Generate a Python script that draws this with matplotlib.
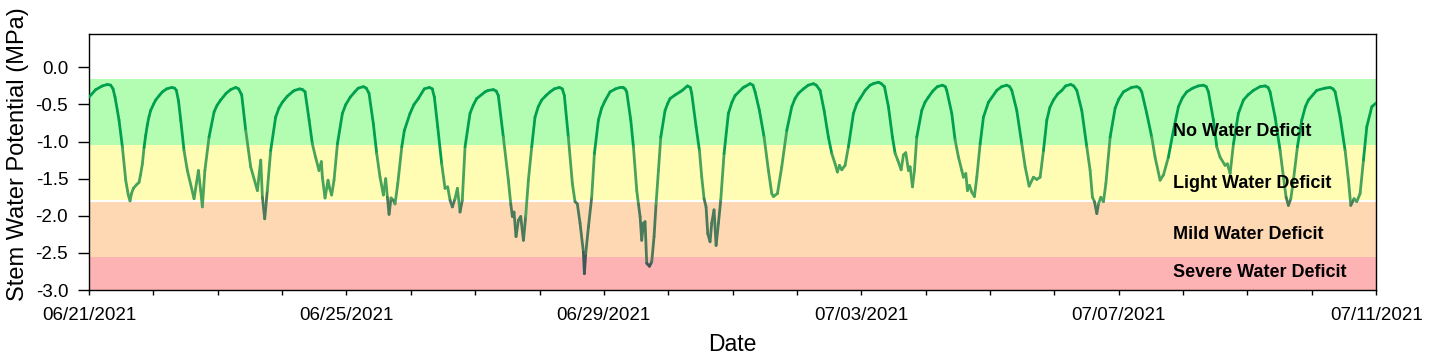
import numpy as np
import pandas as pd
import matplotlib
matplotlib.use("Agg")
import matplotlib.pyplot as plt
import matplotlib.dates as mdates
from matplotlib.collections import LineCollection

plt.rcParams["font.family"] = ["Liberation Sans", "DejaVu Sans"]
plt.rcParams["axes.unicode_minus"] = False

START = pd.Timestamp("2021-06-21")

# time since 06/21/2021 in days
day_offset = [
    0.000, 0.104, 0.207, 0.285, 0.337, 0.373, 0.404, 0.440, 0.466, 0.518, 0.570, 0.610,
    0.637, 0.660, 0.689, 0.740, 0.777, 0.800, 0.829, 0.855, 0.880, 0.907, 0.933, 0.958,
    1.000, 1.036, 1.090, 1.140, 1.205, 1.285, 1.330, 1.357, 1.390, 1.425, 1.476, 1.528,
    1.632, 1.700, 1.735, 1.761, 1.800, 1.865, 1.943, 1.990, 2.046, 2.130, 2.200, 2.280,
    2.325, 2.372, 2.435, 2.512, 2.616, 2.668, 2.694, 2.730, 2.770, 2.823, 2.900, 2.950,
    3.004, 3.080, 3.160, 3.194, 3.274, 3.319, 3.357, 3.420, 3.470, 3.520, 3.574, 3.610,
    3.626, 3.667, 3.714, 3.740, 3.770, 3.807, 3.860, 3.937, 3.990, 4.060,
    4.130, 4.183, 4.263, 4.308, 4.351, 4.418, 4.470, 4.522, 4.574, 4.610, 4.636, 4.662,
    4.693, 4.729, 4.755, 4.797, 4.860, 4.900, 4.988, 5.050, 5.118, 5.209, 5.289, 5.334,
    5.366, 5.418, 5.480, 5.532, 5.573, 5.610, 5.646, 5.687, 5.724, 5.765, 5.800, 5.843,
    5.920, 5.970, 6.024, 6.154, 6.203, 6.283, 6.328, 6.360, 6.438, 6.516, 6.553, 6.579,
    6.604, 6.635, 6.672, 6.708, 6.750, 6.785, 6.827, 6.879, 6.930, 6.980, 7.034, 7.100,
    7.164, 7.229, 7.309, 7.354, 7.386, 7.448, 7.511, 7.552, 7.588, 7.630, 7.682, 7.697,
    7.718, 7.760, 7.811, 7.853, 7.915, 7.965, 8.018,
    8.096, 8.180, 8.252, 8.293, 8.330, 8.355, 8.418, 8.459, 8.511, 8.537, 8.563, 8.588,
    8.614, 8.640, 8.666, 8.708, 8.744, 8.780, 8.811, 8.848, 8.884, 8.951, 8.990, 9.029,
    9.110, 9.184, 9.218, 9.298, 9.343, 9.365, 9.433, 9.485, 9.521, 9.557, 9.588, 9.614,
    9.650, 9.676, 9.712, 9.744, 9.780, 9.816, 9.868, 9.935, 9.990, 10.039, 10.168, 10.192,
    10.272, 10.317, 10.350, 10.417, 10.490, 10.557, 10.609, 10.635, 10.697, 10.764, 10.842,
    10.920, 10.970, 11.023, 11.100, 11.176, 11.256, 11.301, 11.360, 11.422, 11.489, 11.541,
    11.593, 11.629, 11.660, 11.697, 11.748, 11.800, 11.878, 11.930, 11.981, 12.060,
    12.137, 12.187, 12.267, 12.312, 12.360, 12.422, 12.484, 12.526, 12.567, 12.619, 12.655,
    12.691, 12.733, 12.759, 12.795, 12.826, 12.862, 12.940, 12.990, 13.044, 13.110, 13.181,
    13.261, 13.306, 13.328, 13.406, 13.458, 13.510, 13.562, 13.587, 13.624, 13.650, 13.681,
    13.717, 13.758, 13.795, 13.847, 13.898, 13.976, 14.105, 14.181, 14.261, 14.306, 14.339,
    14.416, 14.494, 14.546, 14.608, 14.675, 14.727, 14.779, 14.831, 14.883, 14.930, 14.986,
    15.050, 15.116, 15.175, 15.255, 15.300, 15.349, 15.426, 15.504, 15.556, 15.592, 15.623,
    15.660, 15.686, 15.722, 15.763, 15.800, 15.867, 15.944, 16.000,
    16.073, 16.200, 16.280, 16.325, 16.358, 16.436, 16.513, 16.565, 16.643, 16.695, 16.772,
    16.850, 16.928, 16.990, 17.057, 17.150, 17.236, 17.316, 17.361, 17.394, 17.472, 17.524,
    17.575, 17.653, 17.689, 17.731, 17.783, 17.860, 17.938, 18.010, 18.093, 18.195, 18.275,
    18.320, 18.352, 18.430, 18.508, 18.560, 18.601, 18.637, 18.674, 18.715, 18.777, 18.845,
    18.900, 18.948, 19.077, 19.205, 19.285, 19.330, 19.363, 19.440, 19.518, 19.570, 19.606,
    19.657, 19.699, 19.751, 19.803, 19.855, 19.933, 20.000,
]

# stem water potential (MPa)
swp = [
    -0.40, -0.30, -0.25, -0.23, -0.24, -0.29, -0.40, -0.58, -0.71, -1.07, -1.52, -1.72,
    -1.80, -1.70, -1.63, -1.58, -1.55, -1.45, -1.30, -1.08, -0.92, -0.77, -0.66, -0.58,
    -0.50, -0.44, -0.38, -0.33, -0.29, -0.27, -0.28, -0.31, -0.45, -0.71, -1.12, -1.39,
    -1.77, -1.39, -1.66, -1.88, -1.39, -0.94, -0.60, -0.51, -0.44, -0.35, -0.30, -0.27,
    -0.29, -0.37, -0.85, -1.34, -1.66, -1.25, -1.75, -2.04, -1.66, -1.12, -0.67, -0.55,
    -0.47, -0.39, -0.33, -0.31, -0.29, -0.30, -0.33, -0.71, -1.03, -1.21, -1.39, -1.27,
    -1.48, -1.76, -1.52, -1.63, -1.72, -1.52, -1.03, -0.62, -0.50, -0.40,
    -0.33, -0.28, -0.26, -0.28, -0.35, -0.76, -1.16, -1.48, -1.72, -1.50, -1.75, -1.98,
    -1.76, -1.79, -1.84, -1.57, -1.07, -0.85, -0.62, -0.50, -0.42, -0.29, -0.27, -0.29,
    -0.40, -0.80, -1.30, -1.63, -1.61, -1.79, -1.88, -1.77, -1.63, -1.95, -1.79, -1.07,
    -0.62, -0.51, -0.42, -0.33, -0.31, -0.30, -0.32, -0.38, -0.94, -1.52, -1.84, -2.01,
    -1.95, -2.28, -2.06, -2.01, -2.33, -2.01, -1.52, -1.07, -0.67, -0.53, -0.44, -0.38,
    -0.33, -0.29, -0.27, -0.29, -0.38, -0.94, -1.57, -1.81, -1.84, -2.10, -2.49, -2.78,
    -2.51, -2.15, -1.75, -1.16, -0.71, -0.55, -0.45,
    -0.33, -0.29, -0.27, -0.27, -0.29, -0.33, -0.71, -1.07, -1.66, -1.84, -2.01, -2.33,
    -2.10, -2.08, -2.64, -2.68, -2.62, -2.28, -1.84, -1.39, -0.94, -0.58, -0.49, -0.42,
    -0.37, -0.33, -0.31, -0.25, -0.27, -0.35, -0.80, -1.12, -1.48, -1.77, -1.88, -2.24,
    -2.35, -2.10, -1.92, -2.40, -2.10, -1.79, -1.16, -0.62, -0.47, -0.38, -0.27, -0.26,
    -0.22, -0.24, -0.33, -0.58, -0.94, -1.39, -1.70, -1.74, -1.70, -1.34, -0.85,
    -0.53, -0.42, -0.35, -0.29, -0.24, -0.22, -0.24, -0.31, -0.58, -0.94, -1.16,
    -1.30, -1.41, -1.32, -1.38, -1.32, -1.07, -0.62, -0.49, -0.42, -0.31,
    -0.24, -0.22, -0.20, -0.22, -0.26, -0.53, -0.94, -1.16, -1.25, -1.38, -1.18,
    -1.15, -1.39, -1.34, -1.61, -1.39, -0.94, -0.58, -0.47, -0.40, -0.32, -0.26,
    -0.24, -0.26, -0.31, -0.62, -0.98, -1.21, -1.39, -1.48, -1.43, -1.66, -1.59,
    -1.68, -1.74, -1.48, -1.03, -0.67, -0.47, -0.31, -0.26, -0.24, -0.26, -0.31,
    -0.58, -1.03, -1.34, -1.60, -1.48, -1.51, -1.48, -1.12, -0.71, -0.54, -0.44,
    -0.36, -0.31, -0.25, -0.23, -0.25, -0.31, -0.58, -1.07, -1.39, -1.75, -1.81,
    -1.97, -1.84, -1.75, -1.81, -1.57, -0.94, -0.55, -0.43,
    -0.33, -0.27, -0.26, -0.28, -0.33, -0.62, -0.94, -1.21, -1.52, -1.45, -1.21,
    -0.85, -0.53, -0.41, -0.33, -0.28, -0.25, -0.24, -0.26, -0.33, -0.71, -1.07,
    -1.21, -1.32, -1.30, -1.43, -1.03, -0.62, -0.44, -0.37, -0.31, -0.26, -0.25,
    -0.27, -0.33, -0.67, -1.12, -1.48, -1.75, -1.86, -1.77, -1.52, -1.07, -0.71,
    -0.53, -0.44, -0.31, -0.28, -0.27, -0.29, -0.33, -0.67, -1.12, -1.52, -1.86,
    -1.77, -1.81, -1.70, -1.25, -0.80, -0.53, -0.48,
]

zone_names = ["No Water Deficit", "Light Water Deficit", "Mild Water Deficit", "Severe Water Deficit"]
zone_top = [-0.15, -1.05, -1.8, -2.55]
zone_bottom = [-1.05, -1.8, -2.55, -3.0]
zone_fill = ["#b3fdb3", "#fffdb3", "#fdd8b2", "#fdb3b3"]
zone_line = ["#00a04f", "#47a45a", "#4a7a5a", "#3f5757"]
zone_label_y = [-0.86, -1.57, -2.25, -2.77]

times = START + pd.to_timedelta(day_offset, unit="D")
x = mdates.date2num(times.to_pydatetime())
y = np.array(swp)


def zone_of(v):
    for i, bottom in enumerate(zone_bottom):
        if v >= bottom:
            return i
    return len(zone_bottom) - 1


fig = plt.figure(figsize=(14.29, 3.6), dpi=100)
ax = fig.add_axes([0.0623, 0.1944, 0.9007, 0.7112])

for top, bottom, c in zip(zone_top, zone_bottom, zone_fill):
    ax.axhspan(bottom, top, color=c, lw=0, zorder=0)
ax.axhline(-1.8, color="white", lw=1.5, zorder=1)

pts = np.column_stack([x, y]).reshape(-1, 1, 2)
segs = np.concatenate([pts[:-1], pts[1:]], axis=1)
seg_colors = [zone_line[zone_of((a + b) / 2)] for a, b in zip(y[:-1], y[1:])]
lc = LineCollection(segs, colors=seg_colors, linewidths=2.0, capstyle="round", joinstyle="round", zorder=3)
ax.add_collection(lc)

label_x = mdates.date2num((START + pd.Timedelta(days=16.85)).to_pydatetime())
for name, ly in zip(zone_names, zone_label_y):
    ax.text(label_x, ly, name, fontsize=13, fontweight="bold", va="center", ha="left", zorder=4)

ax.set_xlim(START, START + pd.Timedelta(days=20))
ax.set_ylim(-3.0, 0.45)
ax.xaxis.set_major_locator(mdates.DayLocator(bymonthday=[21, 25, 29, 3, 7, 11]))
ax.xaxis.set_minor_locator(mdates.DayLocator())
ax.xaxis.set_major_formatter(mdates.DateFormatter("%m/%d/%Y"))
ax.set_yticks(np.arange(-3.0, 0.01, 0.5))
ax.yaxis.set_major_formatter(plt.FormatStrFormatter("%.1f"))
ax.tick_params(axis="both", which="both", direction="out", width=1, labelsize=13.5)
ax.tick_params(axis="x", which="both", length=3.5, pad=9)
ax.tick_params(axis="y", length=8, pad=7)
for s in ax.spines.values():
    s.set_linewidth(1)

ax.set_xlabel("Date", fontsize=16.5, labelpad=6)
ax.set_ylabel("Stem Water Potential (MPa)", fontsize=17)
ax.yaxis.set_label_coords(-0.047, 0.53)

fig.savefig("out.png", dpi=100)
